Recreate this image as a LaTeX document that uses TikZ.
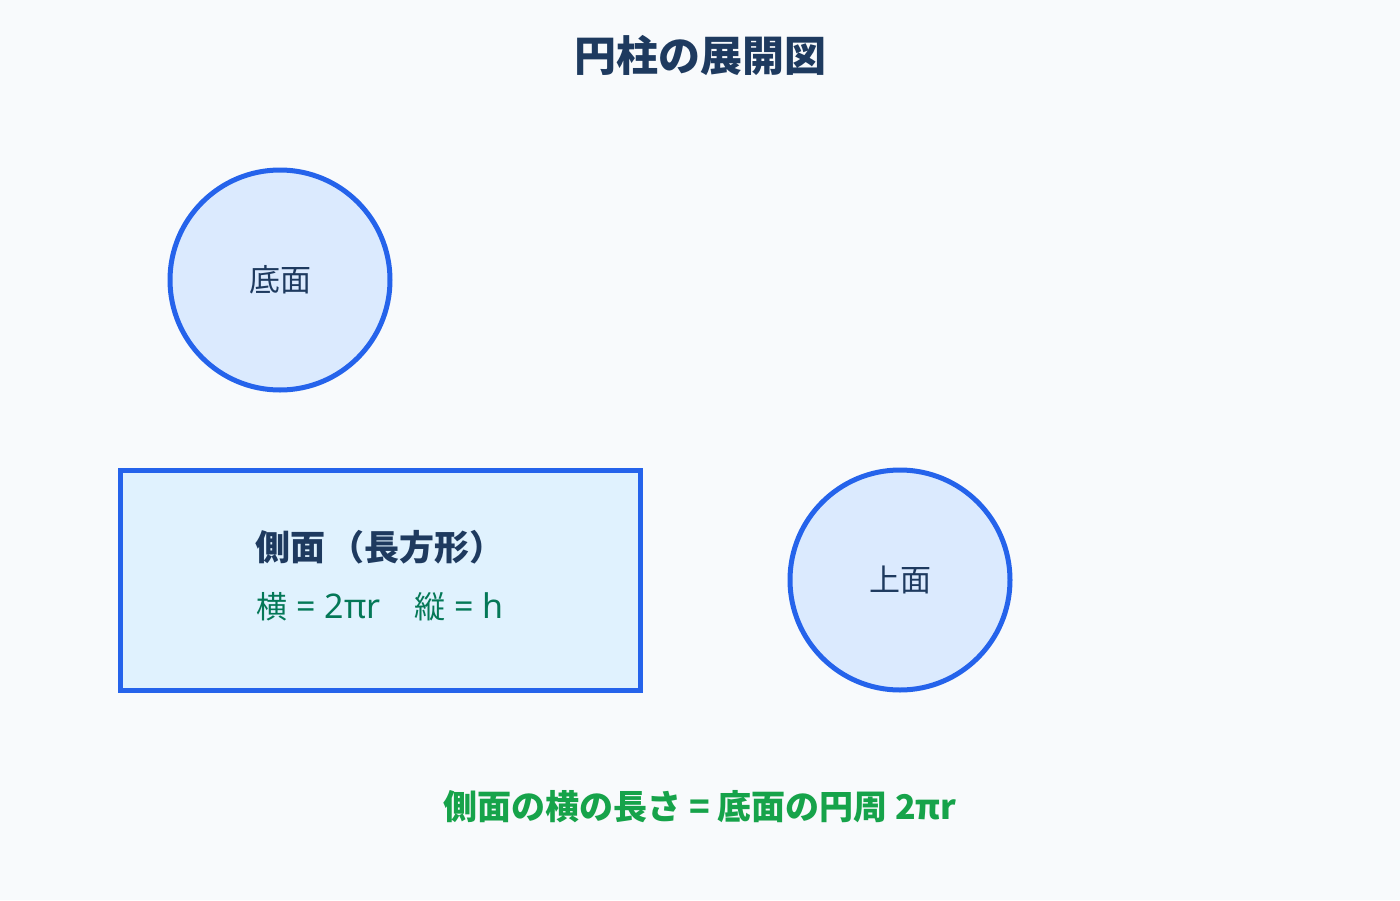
\documentclass[tikz,border=0pt]{standalone}
\usepackage{fontspec}
\setmainfont{Noto Sans CJK JP}
\newfontfamily\latin{Noto Sans}
\usetikzlibrary{positioning}
\definecolor{paper}{HTML}{F8FAFC}
\definecolor{ink}{HTML}{1E3A5F}
\definecolor{edge}{HTML}{2563EB}
\definecolor{face}{HTML}{DBEAFE}
\definecolor{sheet}{HTML}{E0F2FE}
\definecolor{formula}{HTML}{047857}
\definecolor{note}{HTML}{16A34A}
\newcommand{\lat}[1]{{\latin\fontsize{34}{40}\selectfont#1}}
\tikzset{
  % node options
  title/.style={font=\fontsize{42}{50}\selectfont\bfseries,text=ink},
  disc/.style={circle,draw=edge,fill=face,line width=5pt,minimum size=220pt,
    inner sep=0pt,text=ink,font=\fontsize{31}{36}\selectfont},
  sheetbox/.style={rectangle,draw=edge,fill=sheet,line width=5pt,
    minimum width=520pt,minimum height=220pt},
  sidename/.style={font=\fontsize{35}{40}\selectfont\bfseries,text=ink},
  sidesize/.style={font=\fontsize{31}{36}\selectfont,text=formula},
  noteline/.style={font=\fontsize{34}{40}\selectfont\bfseries,text=note},
}
\begin{document}
\begin{tikzpicture}[x=1pt,y=-1pt]
  \useasboundingbox[fill=paper] (0,0) rectangle (1400,900);
  \node[title] (head) at (700,55) {円柱の展開図};
  % faces
  \node[disc] (bottom) at (280,280) {底面};
  \node[sheetbox] (side) at (380,580) {};
  \node[disc] (top) at (900,580) {上面};
  % side labels
  \node[sidename] (sidelabel) at (380,547) {側面\hspace{5pt}（長方形）};
  \node[sidesize] (sidedim) at (380,607) {横\lat{ = 2πr}\hspace{34pt}縦\lat{ = h}};
  \node[noteline] (rule) at (700,807) {側面の横の長さ = 底面の円周 2πr};
\end{tikzpicture}
\end{document}
